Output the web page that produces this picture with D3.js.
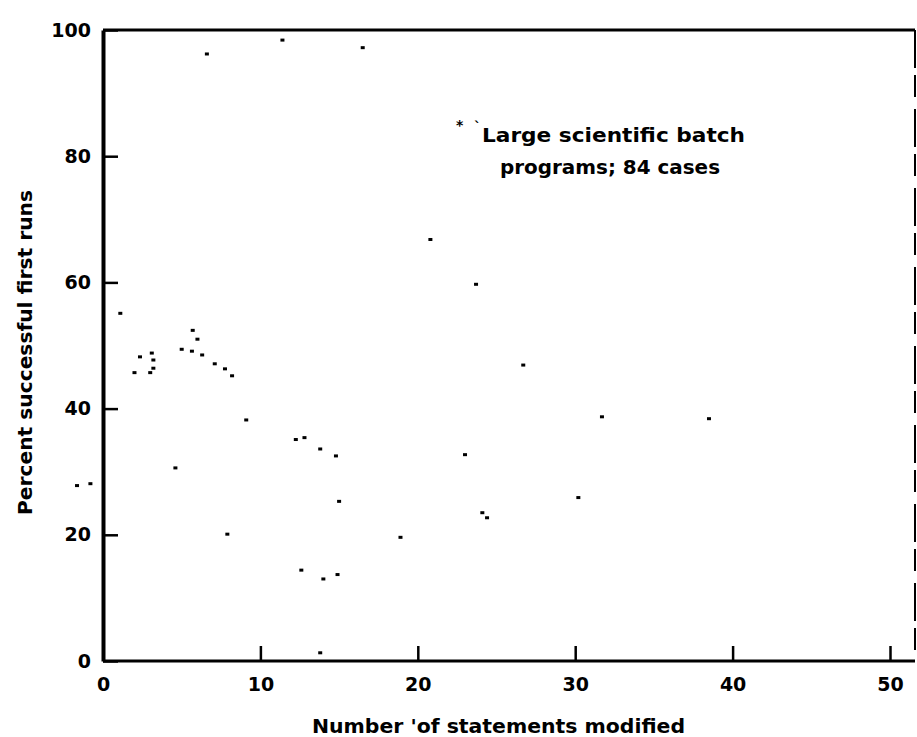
<!DOCTYPE html>
<html lang="en">
<head>
    <meta charset="utf-8">
    <script src="https://d3js.org/d3.v7.min.js"></script>
    <style type="text/css">
        body {
            margin: 0;
            background: white;
            overflow: hidden;
        }
        text {
            font-family: "DejaVu Sans", sans-serif;
            font-weight: bold;
            fill: black;
        }
    </style>
</head>
<body>
<svg id="chart"></svg>
<script type="text/javascript">
    // statements modified vs. percent successful first runs
    var stmtsModified = [6.6, 11.4, 16.5, 20.8, 1.1, 5.7, 6.0, 5.0, 5.65, 6.3,
        2.35, 3.1, 3.2, 3.2, 2.0, 3.0, 7.1, 7.75, 8.2, 9.1,
        12.25, 12.8, 13.8, 14.8, 23.7, 26.7, 31.7, 23.0, 4.6, 38.5,
        -1.65, -0.8, 7.9, 12.6, 15.0, 14.0, 14.9, 18.9, 24.1, 24.4,
        30.2, 13.8];
    var pctSuccess = [96.2, 98.4, 97.2, 66.8, 55.1, 52.4, 51.0, 49.4, 49.1, 48.5,
        48.2, 48.8, 47.7, 46.4, 45.7, 45.7, 47.1, 46.3, 45.2, 38.2,
        35.1, 35.4, 33.6, 32.5, 59.7, 46.9, 38.7, 32.7, 30.6, 38.4,
        27.8, 28.1, 20.1, 14.4, 25.3, 13.0, 13.7, 19.6, 23.5, 22.7,
        25.9, 1.3];

    var xTicks = [0, 10, 20, 30, 40, 50];
    var yTicks = [0, 20, 40, 60, 80, 100];
    var noteLines = ["Large scientific batch", "programs; 84 cases"];
    var xTitle = "Number 'of statements modified";
    var yTitle = "Percent successful first runs";

    var width = 917;
    var height = 737;

    var x = d3.scaleLinear().domain([0, 50]).range([103, 890]);
    var y = d3.scaleLinear().domain([0, 100]).range([661, 30]);
    var frameRight = 915;

    var svg = d3.select("#chart")
        .attr("width", width)
        .attr("height", height);

    // frame: top and (broken, scanned-looking) right border
    svg.append("line")
        .attr("x1", x(0)).attr("x2", frameRight)
        .attr("y1", y(100)).attr("y2", y(100))
        .style("stroke", "black")
        .style("stroke-width", 3);

    svg.append("line")
        .attr("x1", frameRight).attr("x2", frameRight)
        .attr("y1", y(100)).attr("y2", y(0))
        .style("stroke", "black")
        .style("stroke-width", 2)
        .style("stroke-dasharray", "38,7,22,12");

    var xAxis = svg.append("g")
        .attr("transform", "translate(0," + y(0) + ")")
        .call(d3.axisBottom(x).tickValues(xTicks).tickSizeInner(-15).tickSizeOuter(0).tickPadding(17));

    xAxis.select(".domain")
        .attr("d", "M" + x(0) + ",0H" + frameRight)
        .style("stroke-width", 3);

    var yAxis = svg.append("g")
        .attr("transform", "translate(" + x(0) + ",0)")
        .call(d3.axisLeft(y).tickValues(yTicks).tickSizeInner(-15).tickSizeOuter(0).tickPadding(12));

    yAxis.select(".domain").style("stroke-width", 4);

    svg.selectAll(".tick line").style("stroke-width", 2.5);
    svg.selectAll(".tick text")
        .style("font-size", "19px")
        .style("font-family", "DejaVu Sans, sans-serif")
        .style("font-weight", "bold");

    // data points
    svg.append("g")
        .selectAll("rect")
        .data(stmtsModified.map(function(d, i) { return [d, pctSuccess[i]]; }))
        .join("rect")
        .attr("x", function(d) { return x(d[0]) - 2; })
        .attr("y", function(d) { return y(d[1]) - 1.5; })
        .attr("width", 4)
        .attr("height", 3)
        .style("fill", "black");

    // legend note
    svg.append("text")
        .attr("x", 456)
        .attr("y", 130)
        .style("font-size", "14px")
        .text("*");

    svg.append("text")
        .attr("x", 474)
        .attr("y", 132)
        .style("font-size", "14px")
        .text("`");

    var noteX = [482, 500];
    var noteY = [142, 174];
    var noteLen = [263, 220];
    svg.selectAll(".note")
        .data(noteLines)
        .join("text")
        .attr("class", "note")
        .attr("x", function(d, i) { return noteX[i]; })
        .attr("y", function(d, i) { return noteY[i]; })
        .attr("textLength", function(d, i) { return noteLen[i]; })
        .attr("lengthAdjust", "spacingAndGlyphs")
        .style("font-size", "19px")
        .text(function(d) { return d; });

    // axis titles
    svg.append("text")
        .attr("x", 312)
        .attr("y", 733)
        .attr("textLength", 373)
        .attr("lengthAdjust", "spacingAndGlyphs")
        .style("font-size", "20px")
        .text(xTitle);

    svg.append("text")
        .attr("transform", "translate(32,515) rotate(-90)")
        .attr("textLength", 325)
        .attr("lengthAdjust", "spacingAndGlyphs")
        .style("font-size", "19px")
        .text(yTitle);
</script>
</body>
</html>
